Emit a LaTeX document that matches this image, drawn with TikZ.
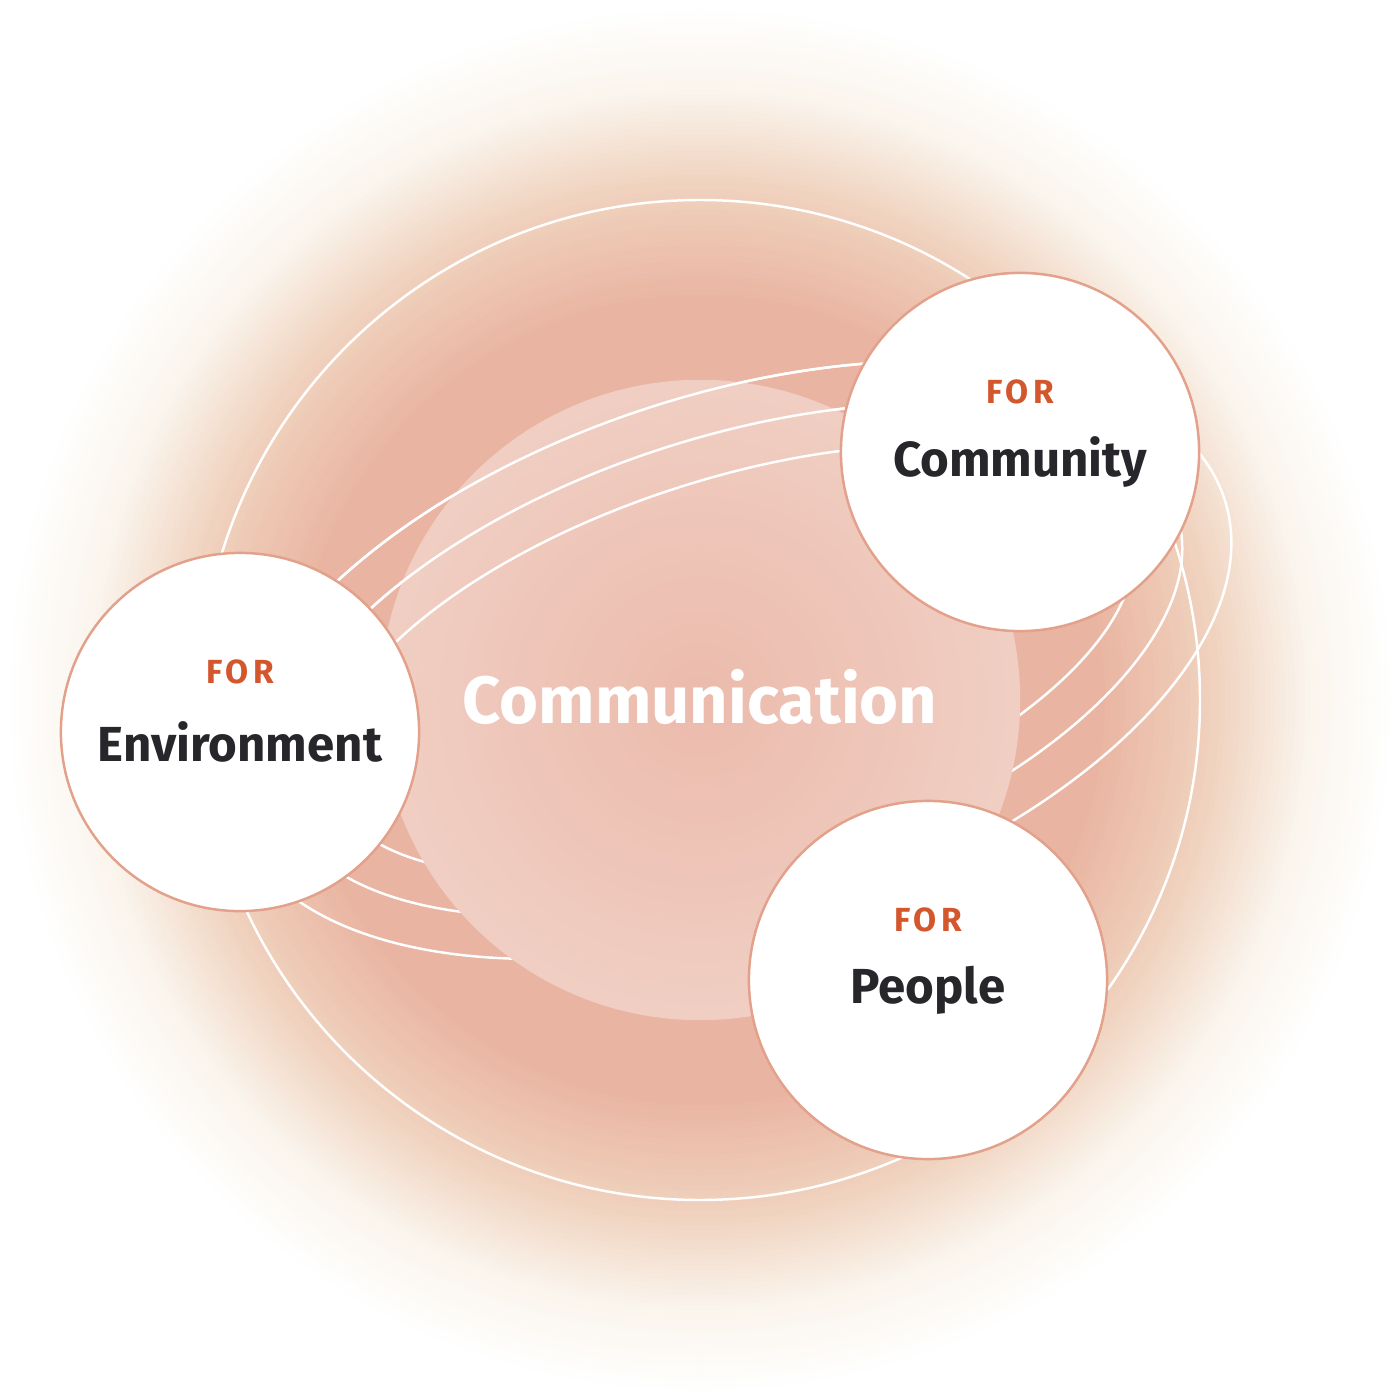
\documentclass[tikz,border=0pt]{standalone}
\usepackage{fontspec}
\setmainfont{Fira Sans}
\usepackage{tikz}
\definecolor{glowcore}{HTML}{E9B4A1}
\definecolor{glowmid}{HTML}{F0D3BF}
\definecolor{glowedge}{HTML}{FAF4EC}
\definecolor{spherein}{HTML}{EBBBAC}
\definecolor{sphereout}{HTML}{F6E2DA}
\definecolor{rimcol}{HTML}{E3A08A}
\definecolor{forcol}{HTML}{D4562C}
\definecolor{namecol}{HTML}{26262B}
\pgfdeclareradialshading{sphere}{\pgfpoint{0bp}{0bp}}{color(0bp)=(spherein); color(50bp)=(sphereout)}
\tikzset{
  orbit/.style={draw=white, line width=0.7pt},
  target/.style={circle, draw=rimcol, line width=0.7pt, fill=white, minimum size=3.58cm, inner sep=0pt},
  fortext/.style={text=forcol, font=\bfseries\fontsize{9.5}{11}\selectfont\addfontfeatures{LetterSpace=12}},
  nametext/.style={text=namecol, font=\bfseries\fontsize{14}{16}\selectfont}
}
\begin{document}
\begin{tikzpicture}[x=0.01cm, y=-0.01cm]
  \useasboundingbox (0,0) rectangle (1400,1400);
  % soft glow, outer rings first
  \foreach \r in {700,695,...,390}{
    \pgfmathsetmacro{\mixA}{max(0,min(100,(520-\r)/120*100))}
    \pgfmathsetmacro{\mixB}{max(0,min(100,(610-\r)/90*100))}
    \pgfmathsetmacro{\mixC}{max(0,min(100,(695-\r)/85*100))}
    \ifdim\r pt>610pt
      \fill[glowedge!\mixC!white] (700,700) circle (\r);
    \else\ifdim\r pt>520pt
      \fill[glowmid!\mixB!glowedge] (700,700) circle (\r);
    \else
      \fill[glowcore!\mixA!glowmid] (700,700) circle (\r);
    \fi\fi
  }
  % orbits
  \draw[orbit] (700,700) circle (500);
  \foreach \rx/\ry in {520/265, 470/222, 420/180}
    \draw[orbit] (730,660) ellipse [x radius=\rx, y radius=\ry, rotate=18];
  \node[circle, minimum size=6.4cm, inner sep=0pt, shading=sphere] (comm) at (700,700) {};
  \begin{scope}
    \clip (0,0) -- (1400,0) -- (1400,420) -- (0,800) -- cycle;
    \foreach \rx/\ry in {520/265, 470/222, 420/180}
      \draw[orbit] (730,660) ellipse [x radius=\rx, y radius=\ry, rotate=18];
  \end{scope}
  \node[text=white, font=\bfseries\fontsize{19}{23}\selectfont] (commtext) at (700,697) {Communication};
  % targets
  \node[target] (community) at (1020,452) {};
  \node[target] (environment) at (240,732) {};
  \node[target] (people) at (928,980) {};
  \node[fortext] (cfor) at (1020,392) {FOR};
  \node[nametext] (cname) at (1020,462) {Community};
  \node[fortext] (efor) at (240,672) {FOR};
  \node[nametext] (ename) at (240,742) {Environment};
  \node[fortext] (pfor) at (928,920) {FOR};
  \node[nametext] (pname) at (928,990) {People};
\end{tikzpicture}
\end{document}
